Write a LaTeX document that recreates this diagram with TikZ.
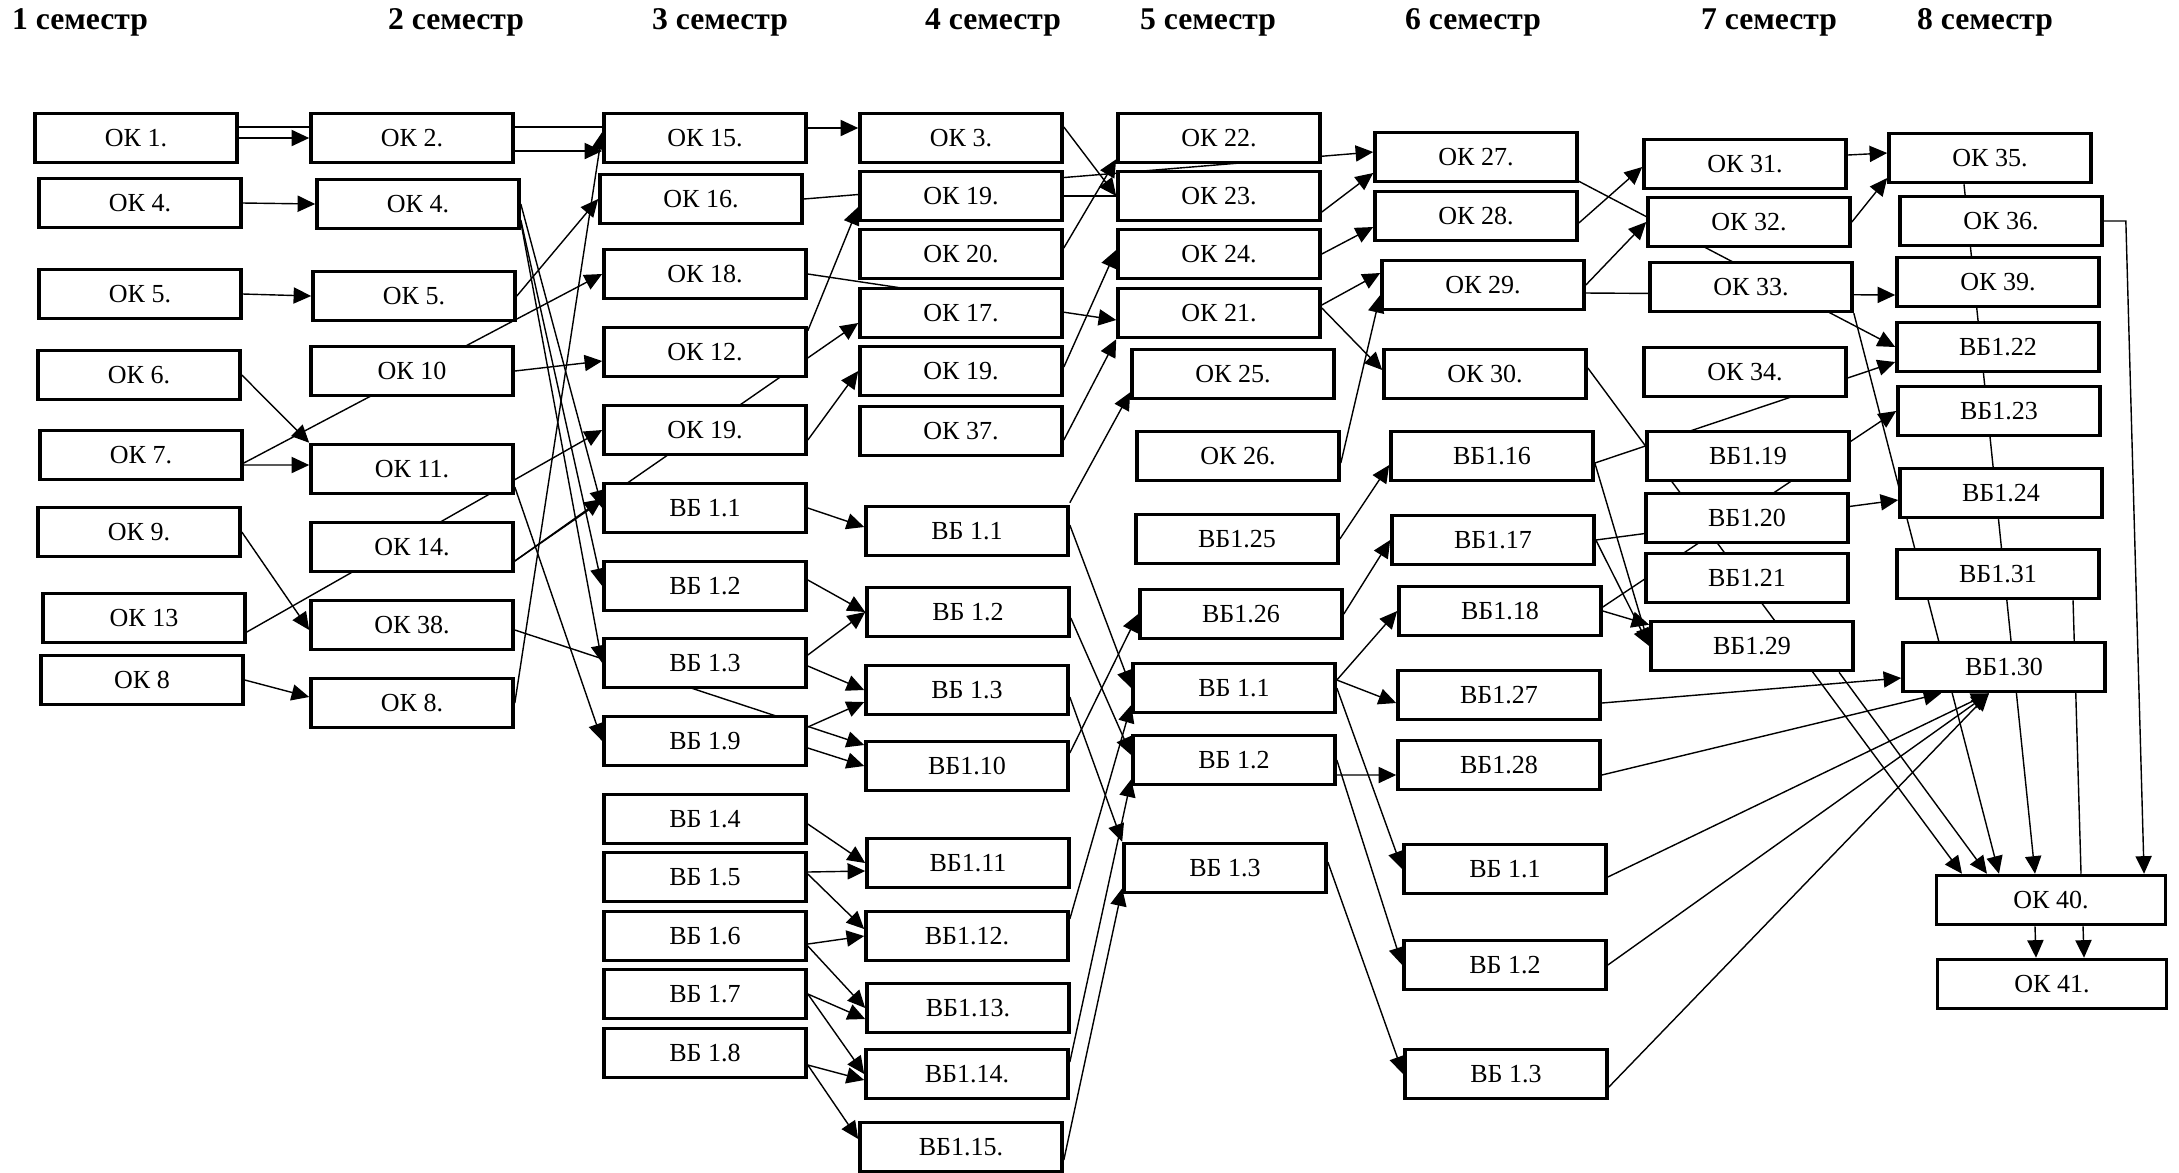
\documentclass[tikz,border=0pt]{standalone}
\usepackage{fontspec}
\setmainfont{Liberation Serif}
\usetikzlibrary{arrows.meta,backgrounds}

\begin{document}
\begin{tikzpicture}[x=0.01cm,y=-0.01cm]
\useasboundingbox (0,0) rectangle (2179,1172);

		% semesters
		\begin{scope}[every node/.style={font=\fontsize{9}{10}\selectfont\bfseries}]
			\node (s1) at (80,22) {1 семестр};
			\node (s2) at (456,22) {2 семестр};
			\node (s3) at (720,22) {3 семестр};
			\node (s4) at (993,22) {4 семестр};
			\node (s5) at (1208,22) {5 семестр};
			\node (s6) at (1473,22) {6 семестр};
			\node (s7) at (1769,22) {7 семестр};
			\node (s8) at (1985,22) {8 семестр};
		\end{scope}

		\begin{scope}[every node/.style={draw,line width=1pt,fill=white,inner sep=0pt,
					  minimum width=2.02cm,minimum height=0.49cm,font=\fontsize{7.4}{8}\selectfont}]
			% 1
			\node (ok1) at (136,138) {ОК 1.};
			\node (ok4) at (140,203) {ОК 4.};
			\node (ok5) at (140,294) {ОК 5.};
			\node (ok6) at (139,375) {ОК 6.};
			\node (ok7) at (141,455) {ОК 7.};
			\node (ok9) at (139,532) {ОК 9.};
			\node (ok13) at (144,618) {ОК 13};
			\node (ok8) at (142,680) {ОК 8};
			% 2
			\node (ok2) at (412,138) {ОК 2.};
			\node (ok4b) at (418,204) {ОК 4.};
			\node (ok5b) at (414,296) {ОК 5.};
			\node (ok10) at (412,371) {ОК 10};
			\node (ok11) at (412,469) {ОК 11.};
			\node (ok14) at (412,547) {ОК 14.};
			\node (ok38) at (412,625) {ОК 38.};
			\node (ok8b) at (412,703) {ОК 8.};
			% 3
			\node (ok15) at (705,138) {ОК 15.};
			\node (ok16) at (701,199) {ОК 16.};
			\node (ok18) at (705,274) {ОК 18.};
			\node (ok12) at (705,352) {ОК 12.};
			\node (ok19c) at (705,430) {ОК 19.};
			\node (vb11c) at (705,508) {ВБ 1.1};
			\node (vb12c) at (705,586) {ВБ 1.2};
			\node (vb13c) at (705,663) {ВБ 1.3};
			\node (vb19) at (705,741) {ВБ 1.9};
			\node (vb14) at (705,819) {ВБ 1.4};
			\node (vb15) at (705,877) {ВБ 1.5};
			\node (vb16) at (705,936) {ВБ 1.6};
			\node (vb17) at (705,994) {ВБ 1.7};
			\node (vb18) at (705,1053) {ВБ 1.8};
			% 4
			\node (ok3) at (961,138) {ОК 3.};
			\node (ok19a) at (961,196) {ОК 19.};
			\node (ok20) at (961,254) {ОК 20.};
			\node (ok17) at (961,313) {ОК 17.};
			\node (ok19b) at (961,371) {ОК 19.};
			\node (ok37) at (961,431) {ОК 37.};
			\node (vb11d) at (967,531) {ВБ 1.1};
			\node (vb12d) at (968,612) {ВБ 1.2};
			\node (vb13d) at (967,690) {ВБ 1.3};
			\node (vb110) at (967,766) {ВБ1.10};
			\node (vb111) at (968,863) {ВБ1.11};
			\node (vb112) at (967,936) {ВБ1.12.};
			\node (vb113) at (968,1008) {ВБ1.13.};
			\node (vb114) at (967,1074) {ВБ1.14.};
			\node (vb115) at (961,1147) {ВБ1.15.};
			% 5
			\node (ok22) at (1219,138) {ОК 22.};
			\node (ok23) at (1219,196) {ОК 23.};
			\node (ok24) at (1219,254) {ОК 24.};
			\node (ok21) at (1219,313) {ОК 21.};
			\node (ok25) at (1233,374) {ОК 25.};
			\node (ok26) at (1238,456) {ОК 26.};
			\node (vb125) at (1237,539) {ВБ1.25};
			\node (vb126) at (1241,614) {ВБ1.26};
			\node (vb11e) at (1234,688) {ВБ 1.1};
			\node (vb12e) at (1234,760) {ВБ 1.2};
			\node (vb13e) at (1225,868) {ВБ 1.3};
			% 6
			\node (ok27) at (1476,157) {ОК 27.};
			\node (ok28) at (1476,216) {ОК 28.};
			\node (ok29) at (1483,285) {ОК 29.};
			\node (ok30) at (1485,374) {ОК 30.};
			\node (vb116) at (1492,456) {ВБ1.16};
			\node (vb117) at (1493,540) {ВБ1.17};
			\node (vb118) at (1500,611) {ВБ1.18};
			\node (vb127) at (1499,695) {ВБ1.27};
			\node (vb128) at (1499,765) {ВБ1.28};
			\node (vb11f) at (1505,869) {ВБ 1.1};
			\node (vb12f) at (1505,965) {ВБ 1.2};
			\node (vb13f) at (1506,1074) {ВБ 1.3};
			% 7
			\node (ok31) at (1745,164) {ОК 31.};
			\node (ok32) at (1749,222) {ОК 32.};
			\node (ok33) at (1751,287) {ОК 33.};
			\node (ok34) at (1745,372) {ОК 34.};
			\node (vb119) at (1748,456) {ВБ1.19};
			\node (vb120) at (1747,518) {ВБ1.20};
			\node (vb121) at (1747,578) {ВБ1.21};
			\node (vb129) at (1752,646) {ВБ1.29};
			% 8
			\node (ok35) at (1990,158) {ОК 35.};
			\node (ok36) at (2001,221) {ОК 36.};
			\node (ok39) at (1998,282) {ОК 39.};
			\node (vb122) at (1998,347) {ВБ1.22};
			\node (vb123) at (1999,411) {ВБ1.23};
			\node (vb124) at (2001,493) {ВБ1.24};
			\node (vb131) at (1998,574) {ВБ1.31};
			\node (vb130) at (2004,667) {ВБ1.30};
			\node[minimum width=2.29cm] (ok40) at (2051,900) {ОК 40.};
			\node[minimum width=2.29cm] (ok41) at (2052,984) {ОК 41.};
		\end{scope}

		\begin{scope}[on background layer,line width=0.75pt,
					  >={Triangle[length=5pt,width=4.6pt]}]
			% 1 -> 2
			\draw [->] (ok1.east) -- (ok2.west);
			\draw ([yshift=0.11cm]ok1.east) -- ([yshift=0.11cm]ok15.west);
			\draw [->] (ok4.east) -- (ok4b.west);
			\draw [->] (ok5.east) -- (ok5b.west);
			\draw [->] (ok6.east) -- (ok11.north west);
			\draw [->] ([yshift=-0.1cm]ok7.east) -- ([yshift=0.04cm]ok11.west);
			\draw [->] ([yshift=-0.08cm]ok7.east) -- (ok18.west);
			\draw [->] (ok9.east) -- ([yshift=-0.05cm]ok38.west);
			\draw [->] ([yshift=-0.14cm]ok13.east) -- (ok19c.west);
			\draw [->] (ok8.east) -- ([yshift=0.06cm]ok8b.west);
			% 2 -> 3
			\draw [->] ([yshift=-0.13cm]ok2.east) -- ([yshift=-0.13cm]ok15.west);
			\draw [->] (ok4b.east) -- (vb11c.west);
			\draw [->] ([yshift=-0.16cm]ok4b.east) -- (vb12c.west);
			\draw [->] ([yshift=-0.18cm]ok4b.east) -- (vb13c.west);
			\draw [->] (ok5b.east) -- (ok16.west);
			\draw [->] (ok10.east) -- ([yshift=-0.09cm]ok12.west);
			\draw [->] ([yshift=-0.14cm]ok14.east) -- ([yshift=0.09cm]vb11c.west);
			\draw [->] ([yshift=-0.14cm]ok14.east) -- ([yshift=-0.1cm]ok17.west);
			\draw [->] ([yshift=-0.18cm]ok11.east) -- (vb19.west);
			\draw [->] ([yshift=-0.05cm]ok38.east) -- ([yshift=0.21cm]vb110.west);
			\draw [->] (ok8b.east) -- ([yshift=0.06cm]ok15.west);
			% 3 -> 4
			\draw [->] ([yshift=0.1cm]ok15.east) -- ([yshift=0.1cm]ok3.west);
			\draw [->] (ok16.east) -- ([yshift=0.05cm]ok27.west);
			\draw [->] (ok18.east) -- ([yshift=-0.07cm]ok21.west);
			\draw [->] ([yshift=-0.05cm]ok12.north east) -- ([yshift=-0.11cm]ok19a.west);
			\draw [->] ([yshift=-0.1cm]ok19c.east) -- (ok19b.west);
			\draw [->] (vb11c.east) -- ([yshift=0.04cm]vb11d.west);
			\draw [->] ([yshift=0.06cm]vb12c.east) -- (vb12d.west);
			\draw [->] ([yshift=0.08cm]vb13c.east) -- (vb12d.west);
			\draw [->] ([yshift=-0.03cm]vb13c.east) -- (vb13d.west);
			\draw [->] ([yshift=0.14cm]vb19.east) -- ([yshift=-0.12cm]vb13d.west);
			\draw [->] ([yshift=-0.07cm]vb19.east) -- (vb110.west);
			\draw [->] ([yshift=-0.05cm]vb14.east) -- (vb111.west);
			\draw [->] ([yshift=0.05cm]vb15.east) -- ([yshift=-0.08cm]vb111.west);
			\draw [->] ([yshift=0.03cm]vb15.east) -- ([yshift=0.07cm]vb112.west);
			\draw [->] ([yshift=-0.08cm]vb16.east) -- (vb112.west);
			\draw [->] ([yshift=-0.1cm]vb16.east) -- (vb113.west);
			\draw [->] (vb17.east) -- ([yshift=-0.11cm]vb113.west);
			\draw [->] (vb17.east) -- (vb114.west);
			\draw [->] ([yshift=-0.12cm]vb18.east) -- ([yshift=-0.06cm]vb114.west);
			\draw [->] ([yshift=-0.12cm]vb18.east) -- ([yshift=0.08cm]vb115.west);
			% 4 -> 5
			\draw [->] ([yshift=0.11cm]ok3.east) -- (ok23.west);
			\draw (ok19a.east) -- (ok23.west);
			\draw [->] ([yshift=0.06cm]ok20.east) -- ([yshift=0.05cm]ok22.south west);
			\draw [->] ([yshift=0.04cm]ok19b.east) -- ([yshift=0.04cm]ok24.west);
			\draw [->] ([yshift=-0.09cm]ok37.east) -- (ok21.south west);
			\draw [->] ([yshift=0.02cm]vb11d.north east) -- ([yshift=0.08cm]ok25.south west);
			\draw [->] ([yshift=0.06cm]vb11d.east) -- (vb11e.west);
			\draw [->] ([yshift=-0.06cm]vb12d.east) -- ([yshift=0.05cm]vb12e.west);
			\draw [->] ([yshift=-0.07cm]vb13d.east) -- (vb13e.north west);
			\draw [->] ([yshift=0.13cm]vb110.east) -- (vb126.west);
			\draw [->] ([yshift=0.17cm]vb112.east) -- ([yshift=-0.17cm]vb11e.west);
			\draw [->] ([yshift=0.12cm]vb114.east) -- ([yshift=0.07cm]vb12e.south west);
			\draw [->] ([yshift=-0.13cm]vb115.east) -- ([yshift=0.06cm]vb13e.south west);
			% 5 -> 6
			\draw [->] ([yshift=-0.16cm]ok23.east) -- ([yshift=-0.16cm]ok27.west);
			\draw [->] (ok24.east) -- ([yshift=-0.11cm]ok28.west);
			\draw [->] ([yshift=0.08cm]ok21.east) -- ([yshift=0.12cm]ok29.west);
			\draw [->] ([yshift=0.05cm]ok21.east) -- ([yshift=0.04cm]ok30.west);
			\draw [->] ([yshift=-0.07cm]ok26.east) -- ([yshift=-0.1cm]ok29.west);
			\draw [->] (vb125.east) -- ([yshift=-0.09cm]vb116.west);
			\draw [->] (vb126.east) -- (vb117.west);
			\draw [->] ([yshift=0.08cm]vb11e.east) -- (vb118.west);
			\draw [->] ([yshift=0.08cm]vb11e.east) -- ([yshift=-0.08cm]vb127.west);
			\draw [->] (vb11e.east) -- (vb11f.west);
			\draw [->] (vb12e.east) -- (vb12f.west);
			\draw [->] ([yshift=-0.15cm]vb12e.east) -- ([yshift=-0.1cm]vb128.west);
			\draw [->] ([yshift=0.06cm]vb13e.east) -- (vb13f.west);
			% 6 -> 7, 8
			\draw [->] ([yshift=0.02cm]ok27.south east) -- (vb122.west);
			\draw [->] ([yshift=-0.07cm]ok28.east) -- ([yshift=-0.03cm]ok31.west);
			\draw [->] (ok29.east) -- (ok32.west);
			\draw [->] ([yshift=-0.08cm]ok29.east) -- ([yshift=-0.13cm]ok39.west);
			\draw [->] ([yshift=0.06cm]ok30.east) -- ([xshift=-0.89cm]ok40.north);
			\draw [->] ([yshift=-0.07cm]vb116.east) -- ([yshift=-0.15cm]vb122.west);
			\draw [->] ([yshift=-0.07cm]vb116.east) -- (vb129.west);
			\draw [->] (vb117.east) -- ([yshift=-0.07cm]vb124.west);
			\draw [->] (vb117.east) -- (vb129.west);
			\draw [->] ([yshift=0.04cm]vb118.east) -- (vb123.west);
			\draw [->] (vb118.east) -- ([yshift=-0.05cm]vb129.north west);
			\draw [->] ([yshift=-0.08cm]vb127.east) -- ([yshift=-0.11cm]vb130.west);
			\draw [->] ([yshift=-0.1cm]vb128.east) -- ([xshift=0.4cm]vb130.south west);
			\draw [->] ([yshift=-0.08cm]vb11f.east) -- ([xshift=-0.15cm]vb130.south);
			\draw [->] (vb12f.east) -- ([xshift=-0.15cm]vb130.south);
			\draw [->] ([yshift=-0.13cm]vb13f.east) -- ([xshift=-0.15cm]vb130.south);
			% 7 -> 8
			\draw [->] ([yshift=0.09cm]ok31.east) -- ([yshift=0.05cm]ok35.west);
			\draw [->] (ok32.east) -- ([yshift=-0.2cm]ok35.west);
			\draw [->] (ok33.south east) -- ([xshift=-0.52cm]ok40.north);
			\draw [->] ([xshift=0.87cm]vb129.south) -- ([xshift=-0.64cm]ok40.north);
			% 8
			\draw [->] ([xshift=-0.26cm]ok35.south) -- ([xshift=-0.16cm]ok40.north);
			\draw ([xshift=0.75cm]vb131.south) -- ([xshift=0.3cm]ok40.north);
			\draw [->] (ok36.east) -- ++(0.22cm,0) -- ([xshift=0.93cm]ok40.north);
			\draw [->] ([xshift=-0.16cm]ok40.south) -- ([xshift=-0.16cm]ok41.north);
			\draw [->] ([xshift=0.32cm]ok40.south) -- ([xshift=0.32cm]ok41.north);
		\end{scope}
\end{tikzpicture}
\end{document}
